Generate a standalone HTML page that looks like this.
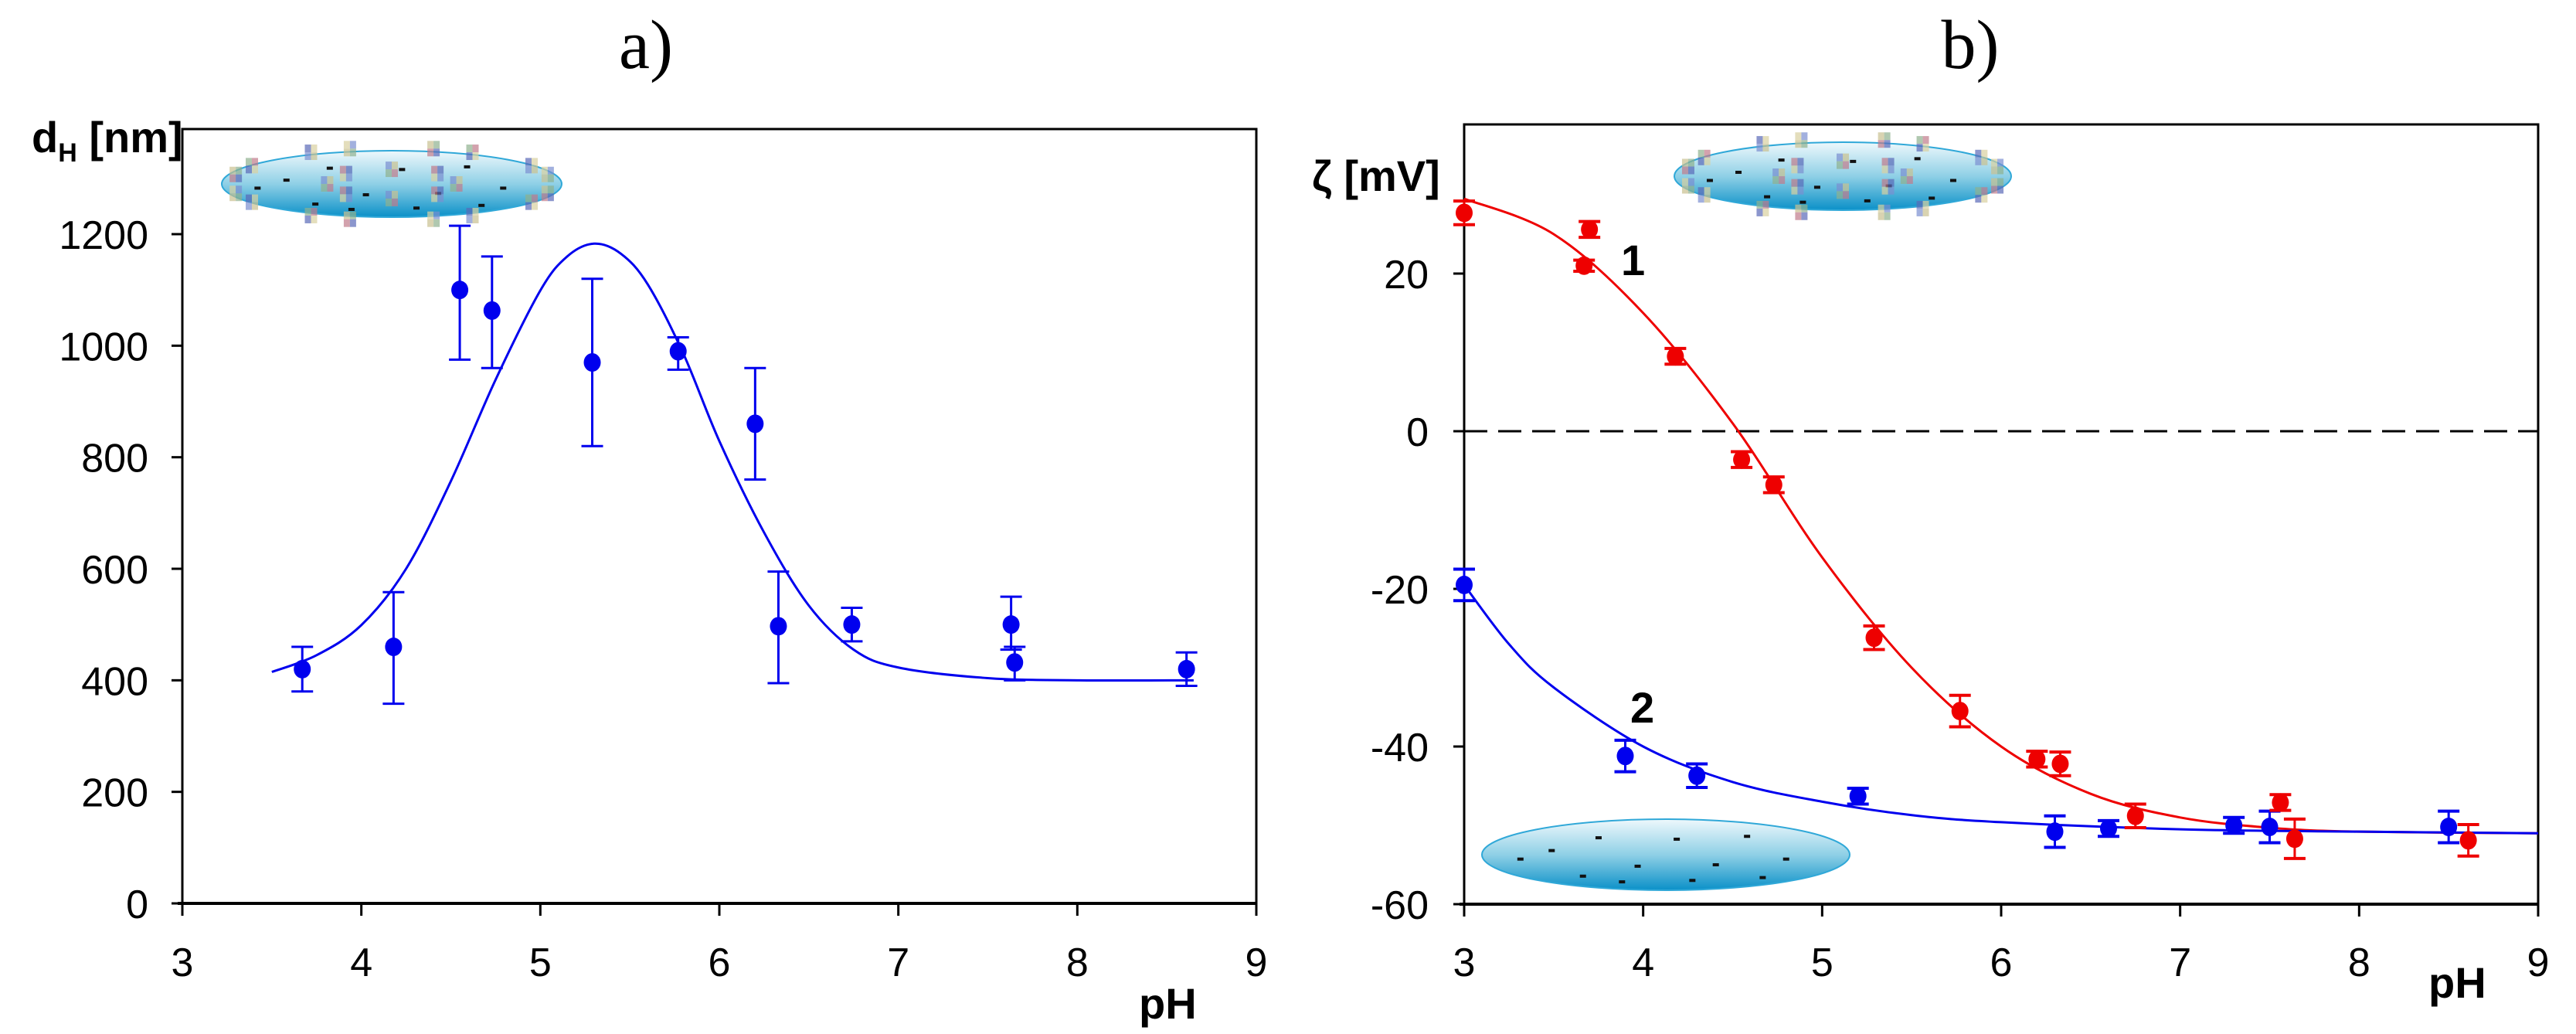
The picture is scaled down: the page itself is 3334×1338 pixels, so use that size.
<!DOCTYPE html>
<html><head><meta charset="utf-8"><style>
html,body{margin:0;padding:0;background:#fff;overflow:hidden;}
svg{display:block;}
.tk{font-family:"Liberation Sans",sans-serif;font-size:52px;fill:#000;}
.ax{font-family:"Liberation Sans",sans-serif;font-size:56px;font-weight:bold;fill:#000;}
.ttl{font-family:"Liberation Serif",serif;font-size:90px;fill:#000;}
</style></head><body>
<svg id="chart" width="3334" height="1338" viewBox="0 0 3334 1338" xmlns="http://www.w3.org/2000/svg">
<defs>
<linearGradient id="gr" x1="0" y1="0" x2="0" y2="1">
<stop offset="0" stop-color="#eef8fc"/><stop offset="0.5" stop-color="#8fd0e6"/><stop offset="1" stop-color="#0a90c8"/>
</linearGradient>
</defs>
<g id="root"></g>
</svg>
<script>
// Panel a data
const aX = [3.67,4.18,4.55,4.73,5.29,5.77,6.2,6.33,6.74,7.63,7.65,8.61];
const aY = [420,460,1100,1063,970,990,860,497,500,500,432,420];
const aLo = [380,358,975,960,820,957,760,395,470,455,400,390];
const aHi = [460,558,1215,1160,1120,1015,960,595,530,550,460,450];
const aFitX = [3.5,3.75,4.0,4.25,4.5,4.75,5.0,5.15,5.3,5.45,5.6,5.8,6.0,6.25,6.5,6.75,7.0,7.5,8.0,8.65];
const aFitY = [415,445,499,600,757,939,1099,1160,1183,1165,1110,985,829,665,534,455,423,404,400,400];
const aYTicks = [0,200,400,600,800,1000,1200];
const xTicks = [3,4,5,6,7,8,9];
// Panel b data
const rX = [3.0,3.7,3.67,4.18,4.55,4.73,5.29,5.77,6.2,6.33,6.75,7.56,7.64,8.61];
const rY = [27.7,25.6,21,9.5,-3.6,-6.8,-26.2,-35.5,-41.6,-42.2,-48.8,-47.1,-51.7,-51.9];
const rE = [1.5,1,0.7,1,1,1,1.5,2,1,1.5,1.5,1,2.5,2];
const bX = [3.0,3.9,4.3,5.2,6.3,6.6,7.3,7.5,8.5];
const bY = [-19.5,-41.2,-43.7,-46.3,-50.8,-50.4,-50,-50.2,-50.2];
const bE = [2,2,1.5,1,2,1,1,2,2];
const rFitX = [3.0,3.5,4.0,4.5,5.0,5.5,6.0,6.5,7.0,7.5,8.0,9.0];
const rFitY = [29.5,25,15,1,-16,-30,-40,-46,-49,-50.3,-50.8,-51];
const bFitX = [3.0,3.25,3.5,4.0,4.5,5.0,5.5,6.0,7.0,8.0,9.0];
const bFitY = [-19.5,-27,-32.5,-40,-44.5,-47,-48.7,-49.6,-50.5,-50.8,-51];
const bYTicks = [-60,-40,-20,0,20];

const NS="http://www.w3.org/2000/svg";
const root=document.getElementById('root');
function mk(tag,attrs,parent){const e=document.createElementNS(NS,tag);for(const k in attrs)e.setAttribute(k,attrs[k]);(parent||root).appendChild(e);return e;}
function txt(s,x,y,cls,anchor,parent){const t=mk('text',{x:x,y:y,class:cls,'text-anchor':anchor||'start'},parent);t.textContent=s;return t;}

// axis functions
const axA={x0:236,x1:1626,top:167,bot:1169};
const xa=v=>axA.x0+(v-3)/6*(axA.x1-axA.x0);
const ya=v=>1169-(v/1200)*(1169-303);
const axB={x0:1895,x1:3285,top:161,bot:1170};
const xb=v=>axB.x0+(v-3)/6*(axB.x1-axB.x0);
const yb=v=>558-(v/20)*204;

function smoothPath(px,py){
  const p=px.map((x,i)=>[x,py[i]]);
  let d=`M${p[0][0]},${p[0][1]}`;
  for(let i=0;i<p.length-1;i++){
    const p0=p[i-1]||p[i],p1=p[i],p2=p[i+1],p3=p[i+2]||p2;
    const c1=[p1[0]+(p2[0]-p0[0])/6,p1[1]+(p2[1]-p0[1])/6];
    const c2=[p2[0]-(p3[0]-p1[0])/6,p2[1]-(p3[1]-p1[1])/6];
    d+=` C${c1[0]},${c1[1]} ${c2[0]},${c2[1]} ${p2[0]},${p2[1]}`;
  }
  return d;
}

function ellipse(cx,cy,rx,ry,name,decor){
  const g=mk('g',{});
  
  
  mk('ellipse',{cx:cx,cy:cy,rx:rx,ry:ry,fill:'url(#gr)',stroke:'#30a8d8','stroke-width':2},g);
  const dashes=[[-0.75,-0.2],[-0.45,-0.65],[-0.2,0.35],[0.05,-0.6],[0.3,0.3],[0.5,-0.7],[0.75,0.1],[-0.55,0.7],[-0.95,0.1],[0.15,0.85],[0.6,0.75],[-0.3,0.9]];
  dashes.forEach(d=>mk('rect',{x:cx+d[0]*rx*0.85,y:cy+d[1]*ry*0.8,width:8,height:4,fill:'#111'},g));
  if(decor){
    const cols=['#7a8fd0','#c9c090','#8fb08f','#c07a8a','#5a6ab8','#d8d0a0'];
    for(let i=0;i<24;i++){
      const a=i/24*Math.PI*2, r=(i%3===0?0.4:1.0);
      const px=cx+Math.cos(a)*rx*r*0.95, py=cy+Math.sin(a)*ry*r*1.1;
      for(let j=0;j<4;j++) mk('rect',{x:px+(j%2)*8-8,y:py+Math.floor(j/2)*10-10,width:8,height:10,fill:cols[(i+j)%6],opacity:0.7},g);
    }
  }
}

function frame(ax,name){
  const f=mk('rect',{x:ax.x0,y:ax.top,width:ax.x1-ax.x0,height:ax.bot-ax.top,fill:'none',stroke:'#000','stroke-width':3});
  
  
  mk('line',{x1:ax.x0-6,x2:ax.x1,y1:ax.bot,y2:ax.bot,stroke:'#000','stroke-width':4});
}

// ---------- Panel a ----------
txt('a)',836,88,'ttl','middle');
frame(axA,'plot-frame-a');
xTicks.forEach(v=>{
  mk('line',{x1:xa(v),x2:xa(v),y1:axA.bot,y2:axA.bot+16,stroke:'#000','stroke-width':3});
  const t=txt(String(v),xa(v),1263,'tk','middle');
  
  
});
aYTicks.forEach(v=>{
  mk('line',{x1:axA.x0-14,x2:axA.x0,y1:ya(v),y2:ya(v),stroke:'#000','stroke-width':3});
  const t=txt(String(v),192,ya(v)+19,'tk','end');
  
  
});
ellipse(507,238,220,43,'particle-with-protein-a',true);
{const t=mk('text',{x:41,y:197,class:'ax'});t.innerHTML='d<tspan font-size="34" dy="12">H</tspan><tspan dy="-12"> [nm]</tspan>';
}
{const t=txt('pH',1474,1318,'ax','start');}
{const p=mk('path',{d:smoothPath(aFitX.map(xa),aFitY.map(ya)),fill:'none',stroke:'#0000ee','stroke-width':3});
}
aX.forEach((v,i)=>{
  const g=mk('g',{});
  
  
  const x=xa(v);
  mk('line',{x1:x,x2:x,y1:ya(aLo[i]),y2:ya(aHi[i]),stroke:'#0000ee','stroke-width':3},g);
  mk('line',{x1:x-14,x2:x+14,y1:ya(aLo[i]),y2:ya(aLo[i]),stroke:'#0000ee','stroke-width':3},g);
  mk('line',{x1:x-14,x2:x+14,y1:ya(aHi[i]),y2:ya(aHi[i]),stroke:'#0000ee','stroke-width':3},g);
  mk('ellipse',{cx:x,cy:ya(aY[i]),rx:11,ry:12,fill:'#0000ee'},g);
});

// ---------- Panel b ----------
txt('b)',2550,88,'ttl','middle');
frame(axB,'plot-frame-b');
xTicks.forEach(v=>{
  mk('line',{x1:xb(v),x2:xb(v),y1:axB.bot,y2:axB.bot+16,stroke:'#000','stroke-width':3});
  const t=txt(String(v),xb(v),1263,'tk','middle');
  
  
});
bYTicks.forEach(v=>{
  mk('line',{x1:axB.x0-14,x2:axB.x0,y1:yb(v),y2:yb(v),stroke:'#000','stroke-width':3});
  const t=txt(String(v),1849,yb(v)+19,'tk','end');
  
  
});
{const l=mk('line',{x1:axB.x0,x2:axB.x1,y1:yb(0),y2:yb(0),stroke:'#000','stroke-width':3,'stroke-dasharray':'30 14'});
}
ellipse(2385,228,218,44,'particle-with-protein-b',true);
ellipse(2156,1106,238,46,'bare-particle-b',false);
{const t=txt('ζ [mV]',1698,247,'ax','start');}
{const t=txt('pH',3143,1291,'ax','start');}
{const t=txt('1',2098,356,'ax','start');}
{const t=txt('2',2110,935,'ax','start');}
{const p=mk('path',{d:smoothPath(rFitX.map(xb),rFitY.map(yb)),fill:'none',stroke:'#ee0000','stroke-width':3});
}
{const p=mk('path',{d:smoothPath(bFitX.map(xb),bFitY.map(yb)),fill:'none',stroke:'#0000ee','stroke-width':3});
}
function pts(X,Y,E,col,name){
  X.forEach((v,i)=>{
    const g=mk('g',{});
    
    
    const x=xb(v),lo=yb(Y[i]-E[i]),hi=yb(Y[i]+E[i]);
    mk('line',{x1:x,x2:x,y1:lo,y2:hi,stroke:col,'stroke-width':3},g);
    mk('line',{x1:x-14,x2:x+14,y1:lo,y2:lo,stroke:col,'stroke-width':4},g);
    mk('line',{x1:x-14,x2:x+14,y1:hi,y2:hi,stroke:col,'stroke-width':4},g);
    mk('ellipse',{cx:x,cy:yb(Y[i]),rx:11,ry:12,fill:col},g);
  });
}
pts(bX,bY,bE,'#0000ee','point-series-2');
pts(rX,rY,rE,'#ee0000','point-series-1');
</script>
</body></html>
